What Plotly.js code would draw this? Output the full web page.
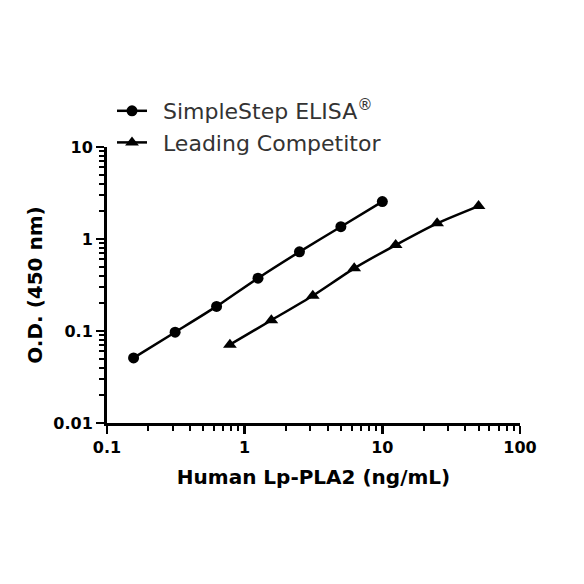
<!DOCTYPE html>
<html>
<head>
<meta charset="utf-8">
<script src="https://cdn.plot.ly/plotly-3.0.1.min.js"></script>
<style>html,body{margin:0;padding:0;background:#fff;}#chart{width:584px;height:584px;}</style>
</head>
<body>
<div id="chart"></div>
<script>
const seriesNames = ["\u2002SimpleStep ELISA<sup>®</sup>", "\u2002Leading Competitor"];
const simpleStepConc = [0.156, 0.3125, 0.625, 1.25, 2.5, 5, 10];
const simpleStepOD = [0.051, 0.097, 0.185, 0.375, 0.725, 1.36, 2.55];
const competitorConc = [0.78125, 1.5625, 3.125, 6.25, 12.5, 25, 50];
const competitorOD = [0.071, 0.131, 0.242, 0.48, 0.86, 1.48, 2.28];
const xTickVals = [0.1, 1, 10, 100];
const xTickText = ["0.1", "1", "10", "100"];
const yTickVals = [0.01, 0.1, 1, 10];
const yTickText = ["0.01", "0.1", "1", "10"];

const boldFam = "DejaVu Sans, sans-serif";
const legFam = "DejaVu Sans, sans-serif";

const traces = [
  {
    x: simpleStepConc, y: simpleStepOD, name: seriesNames[0],
    type: "scatter", mode: "lines+markers",
    line: {color: "#000", width: 2.5, shape: "spline", smoothing: 0.6},
    marker: {symbol: "circle", size: 11, color: "#000"}
  },
  {
    x: competitorConc, y: competitorOD, name: seriesNames[1],
    type: "scatter", mode: "lines+markers",
    line: {color: "#000", width: 2.5, shape: "spline", smoothing: 0.6},
    marker: {symbol: "triangle-up", size: 12, color: "#000"}
  }
];

const axisCommon = {
  type: "log",
  showline: true, linecolor: "#000", linewidth: 3,
  ticks: "outside", tickcolor: "#000", tickwidth: 2.5, ticklen: 8,
  showgrid: false, zeroline: false,
  tickfont: {family: boldFam, size: 16, color: "#000", weight: "bold"},
  minor: {ticks: "outside", ticklen: 5, tickwidth: 2, tickcolor: "#000", dtick: "D1", showgrid: false}
};

const layout = {
  width: 584, height: 584,
  paper_bgcolor: "#fff", plot_bgcolor: "#fff",
  margin: {l: 107, r: 64, t: 147, b: 161},
  showlegend: true,
  legend: {
    xref: "paper", yref: "paper", xanchor: "left", yanchor: "top",
    font: {family: legFam, size: 22, color: "#333"},
    bgcolor: "rgba(0,0,0,0)", itemwidth: 30, tracegroupgap: 0
  },
  xaxis: Object.assign({}, axisCommon, {
    range: [-1, 2], tickvals: xTickVals, ticktext: xTickText,
    title: {text: "Human Lp-PLA2 (ng/mL)", font: {family: boldFam, size: 20, color: "#000", weight: "bold"}, standoff: 14}
  }),
  yaxis: Object.assign({}, axisCommon, {
    range: [-2, 1], tickvals: yTickVals, ticktext: yTickText,
    title: {text: "O.D. (450 nm)", font: {family: boldFam, size: 20, color: "#000", weight: "bold"}, standoff: 6}
  })
};
layout.legend.x = (112 - 107) / (584 - 107 - 64);
layout.legend.y = 1 + (147 - 90) / (584 - 147 - 161);

Plotly.newPlot("chart", traces, layout, {staticPlot: true, displayModeBar: false});
</script>
</body>
</html>
